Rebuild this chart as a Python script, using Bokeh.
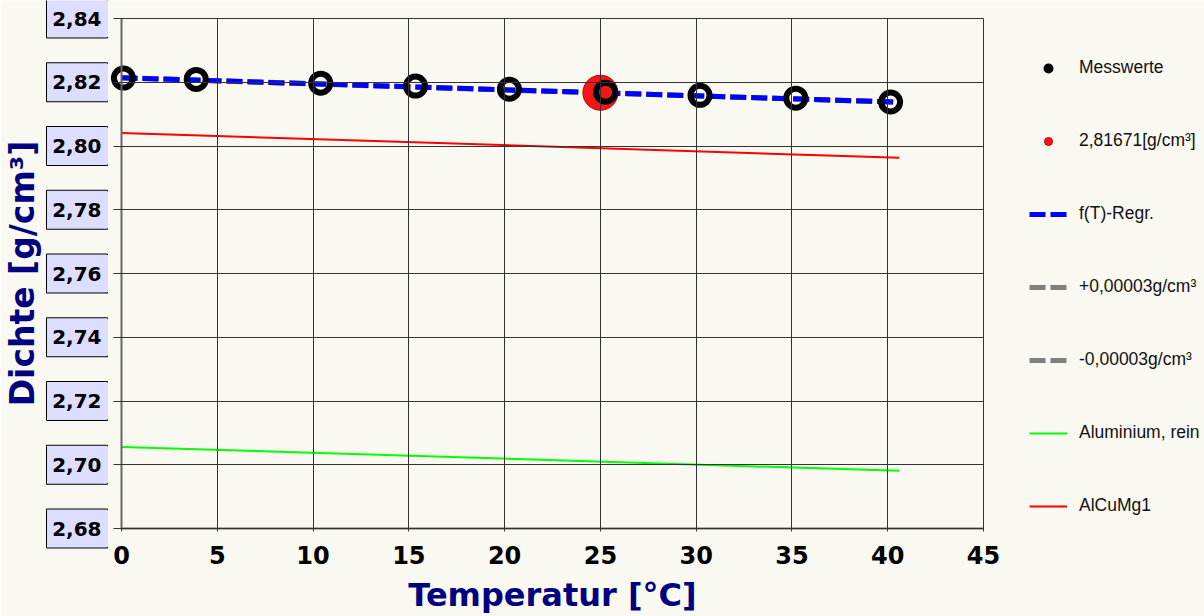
from bokeh.plotting import figure
from bokeh.models import Legend, LegendItem, Range1d, FixedTicker
from bokeh.embed import file_html
from bokeh.resources import INLINE

# ---- data ----
mess_t = [0.1, 3.9, 10.4, 15.35, 20.25, 25.27, 30.2, 35.2, 40.15]
mess_rho = [2.8213, 2.8209, 2.8197, 2.8188, 2.8178, 2.8169, 2.8159, 2.8150, 2.8138]
ref_t = [25.0]
ref_rho = [2.81671]
regr_t = [0.0, 40.3]
regr_rho = [2.8214, 2.8138]
delta = 0.00003
al_t = [0.0, 40.6]
al_rho = [2.7056, 2.6981]
alcu_t = [0.0, 40.6]
alcu_rho = [2.8041, 2.7963]

x_ticks = [0, 5, 10, 15, 20, 25, 30, 35, 40, 45]
y_ticks = [2.68, 2.70, 2.72, 2.74, 2.76, 2.78, 2.80, 2.82, 2.84]
y_tick_labels = ["2,68", "2,70", "2,72", "2,74", "2,76", "2,78", "2,80", "2,82", "2,84"]

legend_labels = ["Messwerte", "2,81671[g/cm³]", "f(T)-Regr.", "+0,00003g/cm³",
                 "-0,00003g/cm³", "Aluminium, rein", "AlCuMg1"]

# ---- layout (pixels) ----
W, H = 1204, 616
AX_LEFT, AX_RIGHT, AX_TOP, AX_BOTTOM = 121, 983, 18, 528   # drawing area of the chart
px_x = (AX_RIGHT - AX_LEFT) / (x_ticks[-1] - x_ticks[0])
px_y = (AX_BOTTOM - AX_TOP) / (y_ticks[-1] - y_ticks[0])
x_lo = x_ticks[0] - AX_LEFT / px_x
x_hi = x_ticks[-1] + (W - AX_RIGHT) / px_x
y_lo = y_ticks[0] - (H - AX_BOTTOM) / px_y
y_hi = y_ticks[0] + AX_BOTTOM / px_y

BG = "#FAF9F1"
NAVY = "#000080"
GRID = "#333333"

p = figure(width=W, height=H,
           x_range=Range1d(x_lo, x_hi), y_range=Range1d(y_lo, y_hi),
           output_backend="svg", toolbar_location=None,
           min_border_left=0, min_border_top=0, min_border_right=0,
           min_border_bottom=0)
p.background_fill_color = BG
p.border_fill_color = BG
p.outline_line_color = None
p.xgrid.visible = False
p.ygrid.visible = False

# x axis placed at rho = 2,68; ticks drawn upward act as vertical grid lines
xax = p.xaxis[0]
xax.fixed_location = y_ticks[0]
xax.ticker = FixedTicker(ticks=x_ticks)
xax.bounds = (x_ticks[0], x_ticks[-1])
xax.major_tick_in = AX_BOTTOM - AX_TOP
xax.major_tick_out = 3
xax.major_tick_line_color = GRID
xax.major_tick_line_width = 1
xax.minor_tick_line_color = None
xax.axis_line_color = "#666666"
xax.axis_line_width = 2
xax.major_label_text_font = "DejaVu Sans"
xax.major_label_text_font_style = "bold"
xax.major_label_text_font_size = "24px"
xax.major_label_text_color = "black"
xax.major_label_standoff = 14
xax.axis_label = "Temperatur [°C]"
xax.axis_label_text_font = "DejaVu Sans"
xax.axis_label_text_font_style = "bold"
xax.axis_label_text_font_size = "32px"
xax.axis_label_text_color = NAVY
xax.axis_label_standoff = 9

# y axis placed at T = 0; ticks drawn rightward act as horizontal grid lines
yax = p.yaxis[0]
yax.fixed_location = x_ticks[0]
yax.ticker = FixedTicker(ticks=y_ticks)
yax.bounds = (y_ticks[0], y_ticks[-1])
yax.major_label_overrides = {v: s for v, s in zip(y_ticks, y_tick_labels)}
yax.major_tick_in = AX_RIGHT - AX_LEFT
yax.major_tick_out = 8
yax.major_tick_line_color = GRID
yax.major_tick_line_width = 1
yax.minor_tick_line_color = None
yax.axis_line_color = "#666666"
yax.axis_line_width = 2
yax.major_label_text_font = "DejaVu Sans"
yax.major_label_text_font_style = "bold"
yax.major_label_text_font_size = "20px"
yax.major_label_text_color = "black"
yax.major_label_standoff = 12
yax.axis_label = "Dichte [g/cm³]"
yax.axis_label_text_font = "DejaVu Sans"
yax.axis_label_text_font_style = "bold"
yax.axis_label_text_font_size = "33px"
yax.axis_label_text_color = NAVY
yax.axis_label_standoff = 7

# lavender boxes behind the y tick labels (open on the right side)
box_cx = x_ticks[0] - 44.5 / px_x
p.rect(x=[box_cx] * len(y_ticks), y=y_ticks, width=61, height=39,
       width_units="screen", height_units="screen",
       fill_color="#DDDDFF", line_color="black", line_width=1)
cover_cx = x_ticks[0] - 15.5 / px_x
p.rect(x=[cover_cx] * len(y_ticks), y=y_ticks, width=4, height=37,
       width_units="screen", height_units="screen",
       fill_color="#DDDDFF", line_color=None)

# reference lines
r_alcu = p.line(alcu_t, alcu_rho, line_color="#FF0000", line_width=2)
r_al = p.line(al_t, al_rho, line_color="#00FF00", line_width=2)

# +- tolerance lines (hidden under the regression)
r_plus = p.line(regr_t, [v + delta for v in regr_rho], line_color="#808080",
                line_width=5, line_dash="16 5")
r_minus = p.line(regr_t, [v - delta for v in regr_rho], line_color="#808080",
                 line_width=5, line_dash="16 5")
r_regr = p.line(regr_t, regr_rho, line_color="#0000FF", line_width=5, line_dash="16 5")

r_ref = p.scatter(ref_t, ref_rho, marker="circle", size=35, fill_color="#F51515",
                  line_color="#C80000", line_width=1)
r_mess = p.scatter(mess_t, mess_rho, marker="circle", size=19, fill_alpha=0,
                   line_color="black", line_width=6)
# legend-only key for the measurements (solid dot, as in the original legend)
r_mess_key = p.scatter(x=[float("nan")], y=[float("nan")], marker="circle", size=10,
                       fill_color="black", line_color="black", line_width=2)

renderers = [r_mess_key, r_ref, r_regr, r_plus, r_minus, r_al, r_alcu]
legend = Legend(items=[LegendItem(label=l, renderers=[r]) for l, r in zip(legend_labels, renderers)],
                location=(1029, H - 516), orientation="vertical",
                glyph_width=38, glyph_height=20, label_height=20, label_standoff=12,
                spacing=52, padding=0, margin=0,
                border_line_color=None, background_fill_alpha=0,
                label_text_font="Liberation Sans", label_text_font_size="17.5px",
                label_text_color="#111111")
p.add_layout(legend, "center")

open("out.html", "w").write(file_html(p, INLINE))
